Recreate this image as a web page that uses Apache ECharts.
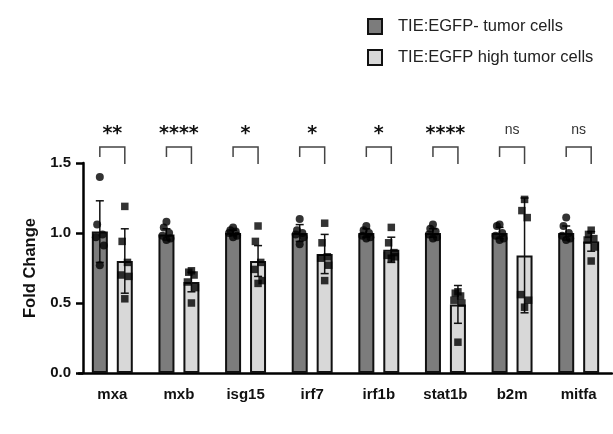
<!DOCTYPE html>
<html><head><meta charset="utf-8">
<script src="https://cdn.jsdelivr.net/npm/echarts@6/dist/echarts.min.js"></script>
<style>html,body{margin:0;padding:0;background:#fff}#c{width:613px;height:434px}</style>
</head><body><div id="c"></div>
<script>
const categories = ['mxa','mxb','isg15','irf7','irf1b','stat1b','b2m','mitfa'];
const seriesNames = ['TIE:EGFP- tumor cells','TIE:EGFP high tumor cells'];
const negMean = [1.01,0.99,1.00,1.00,1.00,1.00,1.00,1.00];
const highMean = [0.80,0.65,0.80,0.85,0.88,0.49,0.84,0.94];
const negSD = [0.22,0.04,0.02,0.06,0.03,0.03,0.04,0.05];
const highSD = [0.23,0.07,0.11,0.14,0.09,0.135,0.41,0.07];
const negPoints = [
  [1.40,1.06,0.99,0.97,0.91,0.77],
  [1.08,1.04,1.00,0.98,0.96,0.95],
  [1.04,1.02,1.01,1.00,0.98,0.97],
  [1.10,1.02,1.00,0.99,0.97,0.92],
  [1.05,1.02,1.00,0.98,0.97,0.96],
  [1.06,1.03,1.01,0.99,0.97,0.96],
  [1.06,1.05,1.00,0.98,0.96,0.95],
  [1.11,1.05,1.00,0.98,0.96,0.95]
];
const highPoints = [
  [1.19,0.94,0.79,0.70,0.69,0.53],
  [0.73,0.72,0.70,0.65,0.61,0.50],
  [1.05,0.94,0.79,0.74,0.66,0.64],
  [1.07,0.93,0.83,0.82,0.77,0.66],
  [1.04,0.93,0.86,0.84,0.83,0.82],
  [0.58,0.57,0.55,0.52,0.50,0.22],
  [1.24,1.16,1.11,0.56,0.52,0.47],
  [1.02,0.99,0.96,0.95,0.90,0.80]
];
const significance = ['**','****','*','*','*','****','ns','ns'];
const yTicks = [0, 0.5, 1.0, 1.5];

const FONT = 'Liberation Sans, Arial, sans-serif';
const DARK = '#7c7c7c', LIGHT = '#d8d8d8';
const OFF = 0.1875; // half of bar pitch in category units
const jit = [0, -0.04, 0.04, -0.06, 0.06, 0.0];

function pts(arr, side){
  const out=[];
  arr.forEach((vals,i)=>vals.forEach((v,k)=>out.push([i+side*OFF+jit[k], v])));
  return out;
}
function errData(mean, sd, side){
  return mean.map((m,i)=>[i+side*OFF, m, sd[i]]);
}
function errRender(params, api){
  const x=api.value(0), m=api.value(1), s=api.value(2);
  const top=api.coord([x,m+s]), bot=api.coord([x,m-s]);
  const st={stroke:'#111',lineWidth:1.5};
  return {type:'group',children:[
    {type:'line',shape:{x1:top[0],y1:top[1],x2:bot[0],y2:bot[1]},style:st},
    {type:'line',shape:{x1:top[0]-4,y1:top[1],x2:top[0]+4,y2:top[1]},style:st},
    {type:'line',shape:{x1:bot[0]-4,y1:bot[1],x2:bot[0]+4,y2:bot[1]},style:st}
  ]};
}
function brRender(params, api){
  const i=api.value(0);
  const L=api.coord([i-OFF,1.614]), R=api.coord([i+OFF,1.614]);
  const Lb=api.coord([i-OFF,1.543]), Rb=api.coord([i+OFF,1.493]);
  const T=api.coord([i,1.736]);
  const txt=significance[i];
  const ns = txt==='ns';
  const st={stroke:'#444',lineWidth:1.5,fill:null};
  return {type:'group',children:[
    {type:'polyline',shape:{points:[[Lb[0],Lb[1]],[L[0],L[1]],[R[0],R[1]],[Rb[0],Rb[1]]]},style:st},
    {type:'text',x:T[0],y:T[1]+(ns?0:4),style:{text:txt,align:'center',verticalAlign:'middle',
      font: ns ? ('normal 14px '+FONT) : ('bold 19px DejaVu Sans, sans-serif'),
      fill: ns ? '#333' : '#111'}}
  ]};
}

const chart = echarts.init(document.getElementById('c'), null, {renderer:'canvas'});
chart.setOption({
  animation:false,
  backgroundColor:'#fff',
  legend:{
    orient:'vertical', left:367, top:18, padding:0, itemWidth:14, itemHeight:15, itemGap:14,
    icon:'rect',
    itemStyle:{borderWidth:2,borderColor:'#111'},
    textStyle:{fontFamily:FONT,fontSize:16.5,color:'#222',padding:[0,0,0,11]},
    data:seriesNames
  },
  grid:{left:79, top:163, width:533, height:210, containLabel:false},
  xAxis:[
    {type:'category', data:categories, boundaryGap:true,
     axisLine:{onZero:false,lineStyle:{color:'#000',width:2.5}},
     axisTick:{alignWithLabel:true,length:7,lineStyle:{color:'#000',width:2.5}},
     axisLabel:{fontFamily:FONT,fontSize:15,fontWeight:'bold',color:'#111',margin:14},
     splitLine:{show:false}},
    {type:'value', min:-0.5, max:7.5, show:false, splitLine:{show:false}}
  ],
  yAxis:{type:'value', min:0, max:1.5, interval:0.5, offset:-4,
    name:'Fold Change', nameLocation:'middle', nameGap:42, nameRotate:90,
    nameTextStyle:{fontFamily:FONT,fontSize:16.5,fontWeight:'bold',color:'#111'},
    axisLine:{show:true,onZero:false,lineStyle:{color:'#000',width:2.5}},
    axisTick:{show:true,length:7,lineStyle:{color:'#000',width:2.5}},
    axisLabel:{fontFamily:FONT,fontSize:15,fontWeight:'bold',color:'#111',margin:12,
      formatter:v=>v.toFixed(1)},
    splitLine:{show:false}},
  series:[
    {name:seriesNames[0], type:'bar', data:negMean, barWidth:16, barGap:'56%',
     itemStyle:{color:DARK,borderColor:'#111',borderWidth:2}},
    {name:seriesNames[1], type:'bar', data:highMean, barWidth:16, barGap:'56%',
     itemStyle:{color:LIGHT,borderColor:'#111',borderWidth:2}},
    {type:'custom', xAxisIndex:1, data:errData(negMean,negSD,-1), renderItem:errRender, z:3},
    {type:'custom', xAxisIndex:1, data:errData(highMean,highSD,1), renderItem:errRender, z:3},
    {type:'scatter', xAxisIndex:1, data:pts(negPoints,-1), symbol:'circle', symbolSize:8,
     itemStyle:{color:'#000'}, z:4},
    {type:'scatter', xAxisIndex:1, data:pts(highPoints,1), symbol:'rect', symbolSize:7.5,
     itemStyle:{color:'#000'}, z:4},
    {type:'custom', xAxisIndex:1, data:categories.map((c,i)=>[i]), renderItem:brRender, clip:false, z:5, silent:true}
  ]
});
</script></body></html>
